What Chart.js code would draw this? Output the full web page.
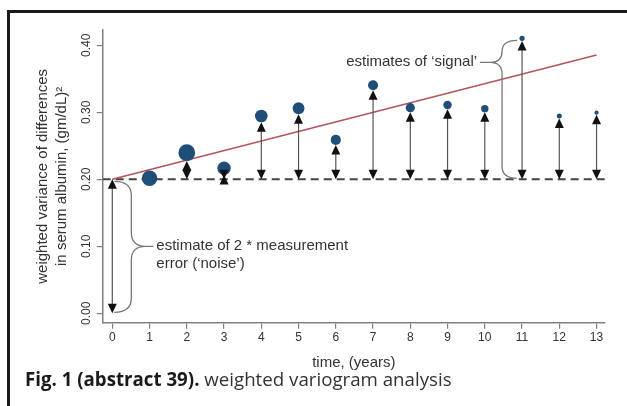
<!DOCTYPE html>
<html>
<head>
<meta charset="utf-8">
<script src="https://cdn.jsdelivr.net/npm/chart.js@4.4.1/dist/chart.umd.min.js"></script>
<style>
html, body { margin: 0; padding: 0; background: #fff; }
body { width: 627px; height: 406px; position: relative; overflow: hidden; }
#frame { position: absolute; left: 7px; top: 10px; right: 0; bottom: 0; border-top: 3px solid #1a1a1a; border-left: 3px solid #1a1a1a; }
#chart { position: absolute; left: 0; top: 0; }
#caption { position: absolute; left: 25px; top: 368px; font-family: 'Open Sans', sans-serif; font-size: 18.7px; line-height: 22px; color: #333; white-space: nowrap; }
#caption b { color: #1a1a1a; font-weight: 700; }
</style>
</head>
<body>
<div id="frame"></div>
<canvas id="chart" width="627" height="380"></canvas>
<div id="caption"><b>Fig. 1 (abstract 39).</b> weighted variogram analysis</div>
<script>
// values
var years = [0, 1, 2, 3, 4, 5, 6, 7, 8, 9, 10, 11, 12, 13];
var pointYears = [1, 2, 3, 4, 5, 6, 7, 8, 9, 10, 11, 12, 13];
var variance = [0.2015, 0.2397, 0.2164, 0.2945, 0.306, 0.2587, 0.3403, 0.3069, 0.3109, 0.3054, 0.4104, 0.2945, 0.2994];
var pointSize = [7.8, 8.4, 6.7, 6.3, 5.9, 5.1, 5.0, 4.6, 4.2, 3.7, 2.6, 2.5, 2.1];  // weight of each lag
var trendYears = [0, 13];
var trendValues = [0.20, 0.3855];
var noiseLevel = 0.20;
var yTicks = [0, 0.1, 0.2, 0.3, 0.4];

var xMin = -0.258, xMax = 13.227;
var yMin = -0.014, yMax = 0.4228;

var textFont = 'Liberation Sans, Arial, sans-serif';
Chart.defaults.font.family = textFont;

function arrowHead(ctx, x, tipY, dir) {
	// dir = -1 points up, 1 points down
	ctx.beginPath();
	ctx.moveTo(x, tipY);
	ctx.lineTo(x - 4.5, tipY - dir * 9.5);
	ctx.lineTo(x + 4.5, tipY - dir * 9.5);
	ctx.closePath();
	ctx.fill();
}

function doubleArrow(ctx, x, top, bottom) {
	ctx.beginPath();
	ctx.moveTo(x, top + 4);
	ctx.lineTo(x, bottom - 4);
	ctx.stroke();
	arrowHead(ctx, x, top, -1);
	arrowHead(ctx, x, bottom, 1);
}

function brace(ctx, xEnd, yA, yB, xV, xTip, yTip, r) {
	var d = Math.sign(xV - xEnd);
	var r1 = Math.min(r, (yTip - yA) / 2);
	var r2 = Math.min(r, (yB - yTip) / 2);
	ctx.beginPath();
	ctx.moveTo(xEnd, yA);
	ctx.quadraticCurveTo(xV, yA, xV, yA + r1);
	ctx.lineTo(xV, yTip - r1);
	ctx.quadraticCurveTo(xV, yTip, xV + d * r1, yTip);
	ctx.lineTo(xTip, yTip);
	ctx.moveTo(xV + d * r2, yTip);
	ctx.quadraticCurveTo(xV, yTip, xV, yTip + r2);
	ctx.lineTo(xV, yB - r2);
	ctx.quadraticCurveTo(xV, yB, xEnd, yB);
	ctx.stroke();
}

var marks = {
	id: 'variogramMarks',
	afterDatasetsDraw: function(chart) {
		var ctx = chart.ctx;
		var x = chart.scales.x, y = chart.scales.y;
		var base = y.getPixelForValue(noiseLevel);
		ctx.save();
		ctx.strokeStyle = '#555';
		ctx.fillStyle = '#111';
		ctx.lineWidth = 1.2;

		// signal arrows, from the noise line up to each point
		for (var i = 0; i < pointYears.length; i++) {
			var px = x.getPixelForValue(pointYears[i]);
			var top = y.getPixelForValue(variance[i]) + pointSize[i];
			if (base - top < 3) continue;
			doubleArrow(ctx, px, top, base);
		}
		// noise arrow at year 0
		var p0 = x.getPixelForValue(0);
		var zero = y.getPixelForValue(0);
		doubleArrow(ctx, p0, base, zero);

		// braces
		ctx.strokeStyle = '#777';
		ctx.lineWidth = 1.3;
		var nTip = (base + zero) / 2;
		brace(ctx, p0 + 2, base + 2, zero - 1, p0 + 19, p0 + 41, nTip, 14);

		var p11 = x.getPixelForValue(11);
		var sTop = y.getPixelForValue(variance[pointYears.indexOf(11)]) + 2;
		var sTip = sTop + 22;
		brace(ctx, p11 - 5, sTop, base - 1, p11 - 20, p11 - 42, sTip, 12);

		// labels
		ctx.fillStyle = '#333';
		ctx.font = '15px ' + textFont;
		ctx.textBaseline = 'middle';
		ctx.textAlign = 'left';
		ctx.fillText('estimate of 2 * measurement', p0 + 44, nTip);
		ctx.fillText('error (\u2018noise\u2019)', p0 + 44, nTip + 18);
		ctx.textAlign = 'right';
		ctx.fillText('estimates of \u2018signal\u2019', p11 - 45, sTip);
		ctx.restore();
	}
};

var pointData = pointYears.map(function(v, i) { return {x: v, y: variance[i]}; });
var trendData = trendYears.map(function(v, i) { return {x: v, y: trendValues[i]}; });
var noiseData = [{x: xMin, y: noiseLevel}, {x: xMax, y: noiseLevel}];

var ctx = document.getElementById('chart');
var chart = new Chart(ctx, {
	type: 'scatter',
	data: {
		datasets: [
			{
				label: 'weighted variance',
				data: pointData,
				backgroundColor: '#1f4e79',
				borderWidth: 0,
				pointRadius: pointSize
			},
			{
				type: 'line',
				label: 'trend',
				data: trendData,
				borderColor: '#b4545a',
				borderWidth: 1.5,
				pointRadius: 0
			},
			{
				type: 'line',
				label: 'noise',
				data: noiseData,
				borderColor: '#444',
				borderWidth: 2,
				borderDash: [8, 5],
				pointRadius: 0
			}
		]
	},
	options: {
		responsive: false,
		animation: false,
		layout: { padding: { left: 33.6, right: 22, top: 30, bottom: 7.6 } },
		plugins: { legend: { display: false }, tooltip: { enabled: false } },
		scales: {
			x: {
				type: 'linear',
				min: xMin,
				max: xMax,
				afterBuildTicks: function(s) { s.ticks = years.map(function(v) { return {value: v}; }); },
				afterFit: function(s) { s.height = 49.7; },
				grid: { drawOnChartArea: false, drawTicks: true, tickLength: 6, color: '#808080', lineWidth: 1.2 },
				border: { color: '#808080', width: 1.5 },
				ticks: { color: '#333', font: { size: 12 }, padding: 2, maxRotation: 0, autoSkip: false },
				title: { display: true, text: 'time, (years)', color: '#333', font: { size: 15, lineHeight: 1.25 }, padding: 0 }
			},
			y: {
				type: 'linear',
				min: yMin,
				max: yMax,
				afterBuildTicks: function(s) { s.ticks = yTicks.map(function(v) { return {value: v}; }); },
				afterFit: function(s) { s.width = 69.1; },
				grid: { drawOnChartArea: false, drawTicks: true, tickLength: 6, color: '#808080', lineWidth: 1.2 },
				border: { color: '#808080', width: 1.5 },
				ticks: {
					color: '#333', font: { size: 12 }, padding: -2,
					minRotation: 90, maxRotation: 90, crossAlign: 'center',
					callback: function(v) { return v.toFixed(2); }
				},
				title: {
					display: true,
					text: ['weighted variance of differences', 'in serum albumin, (gm/dL)\u00b2'],
					color: '#333', font: { size: 15, lineHeight: 1.25 }, padding: 0
				}
			}
		}
	},
	plugins: [marks]
});
</script>
</body>
</html>
